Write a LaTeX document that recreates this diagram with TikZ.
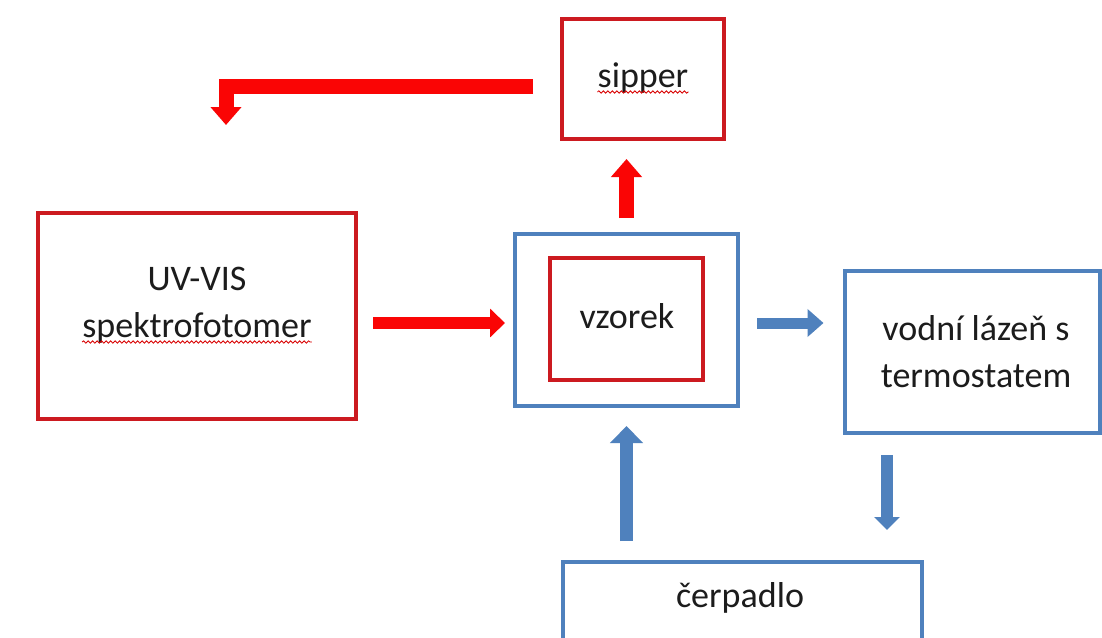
\documentclass[tikz,border=0pt]{standalone}
\usepackage{fontspec}
\setmainfont{Carlito}
\usetikzlibrary{arrows.meta,decorations.pathmorphing}
\definecolor{boxred}{RGB}{204,26,32}
\definecolor{arrred}{RGB}{250,5,5}
\definecolor{oblue}{RGB}{79,129,189}
\definecolor{txtc}{RGB}{28,28,28}
\begin{document}
\begin{tikzpicture}[x=1pt,y=-1pt,
  rbox/.style={draw=boxred, line width=4pt, inner sep=0pt, rectangle},
  bbox/.style={draw=oblue, line width=4pt, inner sep=0pt, rectangle},
  txt/.style={text=txtc, font=\fontsize{36pt}{44pt}\selectfont, inner sep=0pt, anchor=base},
  redarr/.style={draw=arrred, line width=15pt, line join=miter, -{Triangle[width=30pt,length=18pt]}},
  redarrh/.style={draw=arrred, line width=12pt, -{Triangle[width=28pt,length=15pt]}},
  bluarr/.style={draw=oblue, line width=12pt, -{Triangle[width=27pt,length=16pt]}},
  wavy/.style={draw=red!85!black, line width=0.8pt, decorate, decoration={snake, segment length=4.5pt, amplitude=1.2pt}}]
\useasboundingbox (0,0) rectangle (1102,637);
\clip (0,0) rectangle (1102,637);
\fill[white] (0,0) rectangle (1102,637);

% boxes
\node[rbox, minimum width=162pt, minimum height=120pt] (sip) at (643,79) {};
\node[rbox, minimum width=318pt, minimum height=206pt] (uv) at (197,316) {};
\node[bbox, minimum width=223pt, minimum height=172pt] (vzo) at (626.5,320) {};
\node[rbox, minimum width=153pt, minimum height=122pt] (vzi) at (626.5,319) {};
\node[bbox, minimum width=255pt, minimum height=162pt] (vod) at (972,352) {};
\node[bbox, minimum width=359pt, minimum height=78pt] (cer) at (742,601) {};

% texts
\node[txt] (sipt) at (643,87) {sipper};
\node[txt] (uvt1) at (197,290) {UV-VIS};
\node[txt] (uvt2) at (197,337) {spektrofotomer};
\node[txt] (vzt) at (627,328) {vzorek};
\node[txt] (vodt1) at (976,340) {vodní lázeň s};
\node[txt] (vodt2) at (976,387) {termostatem};
\node[txt] (cert) at (740,607) {čerpadlo};

% spell-check underlines
\draw[wavy] ([yshift=-5pt]sipt.base west) -- ([yshift=-5pt]sipt.base east);
\draw[wavy] ([yshift=-5pt]uvt2.base west) -- ([yshift=-5pt]uvt2.base east);

% helper coordinates
\coordinate (mid) at (0,323);
\coordinate (el) at (226,86);
\coordinate (eltip) at (226,125);
\coordinate (dx) at (887,0);

% red connectors
\draw[redarr, shorten <=27pt] (sip.west |- el) -- (el) -- (eltip);
\draw[redarr, shorten <=14pt, shorten >=18pt] (vzo.north) -- (vzo.north |- sip.south);
\draw[redarrh, shorten <=15pt, shorten >=8pt] (uv.east |- mid) -- (vzo.west |- mid);

% blue connectors
\draw[bluarr, line width=11pt, shorten <=17pt, shorten >=19pt] (vzo.east |- mid) -- (vod.west |- mid);
\draw[bluarr, line width=13pt, -{Triangle[width=32pt,length=17pt]}, shorten <=19pt, shorten >=18pt] (vzo.south |- cer.north) -- (vzo.south);
\draw[bluarr, -{Triangle[width=25pt,length=13pt]}, shorten <=20pt, shorten >=30pt] (vod.south -| dx) -- (cer.north -| dx);
\end{tikzpicture}
\end{document}
